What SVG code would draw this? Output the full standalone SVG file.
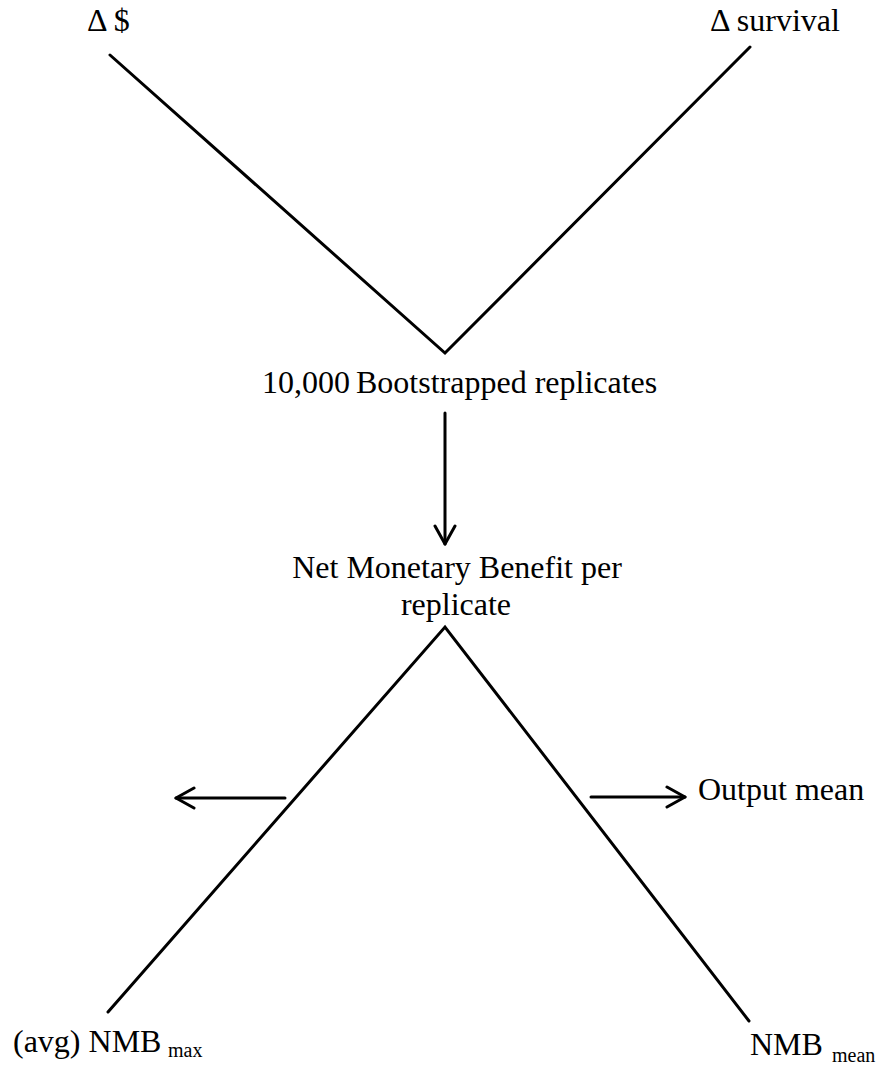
<svg xmlns="http://www.w3.org/2000/svg" width="882" height="1068" viewBox="0 0 882 1068">
<style>
.t{font-family:"Liberation Serif","Times New Roman",serif;font-size:32px;fill:#000}
.s{font-size:20px}
.ln{stroke:#000;stroke-width:3;fill:none;stroke-linecap:round}
.ah{stroke:#000;stroke-width:3;fill:none;stroke-linecap:round;stroke-linejoin:round}
</style>
<defs>
<marker id="arr" viewBox="-20 -12 24 24" markerWidth="24" markerHeight="24" refX="0" refY="0" orient="auto" markerUnits="userSpaceOnUse">
<path d="M-18,-10 L0,0 L-18,10" stroke="#000" stroke-width="3" fill="none" stroke-linecap="round" stroke-linejoin="round"/>
</marker>
</defs>
<rect width="882" height="1068" fill="#fff"/>
<g id="connectors">
<path class="ln" d="M110,55 L445,353 L750,47"/>
<path class="ln" d="M108,1012 L445,627 L749,1021"/>
<line class="ln" x1="445" y1="413" x2="445" y2="544" marker-end="url(#arr)"/>
<line class="ln" x1="285" y1="798" x2="176" y2="798" marker-end="url(#arr)"/>
<line class="ln" x1="591" y1="797" x2="685" y2="797" marker-end="url(#arr)"/>
</g>
<g id="node-cost"><text class="t" x="87" y="31">Δ $</text></g>
<g id="node-survival"><text class="t" x="710" y="31">Δ survival</text></g>
<g id="node-bootstrap"><text class="t" y="393"><tspan x="262">10,000</tspan><tspan x="356">Bootstrapped replicates</tspan></text></g>
<g id="node-nmb"><text class="t" text-anchor="middle"><tspan x="457" y="578">Net Monetary Benefit per</tspan><tspan x="456" y="615">replicate</tspan></text></g>
<g id="node-output"><text class="t" x="698" y="800">Output mean</text></g>
<g id="node-nmbmax"><text class="t" x="13" y="1052">(avg) NMB <tspan class="s" x="168" y="1057">max</tspan></text></g>
<g id="node-nmbmean"><text class="t" x="750" y="1055">NMB <tspan class="s" x="832" y="1062">mean</tspan></text></g>
</svg>
